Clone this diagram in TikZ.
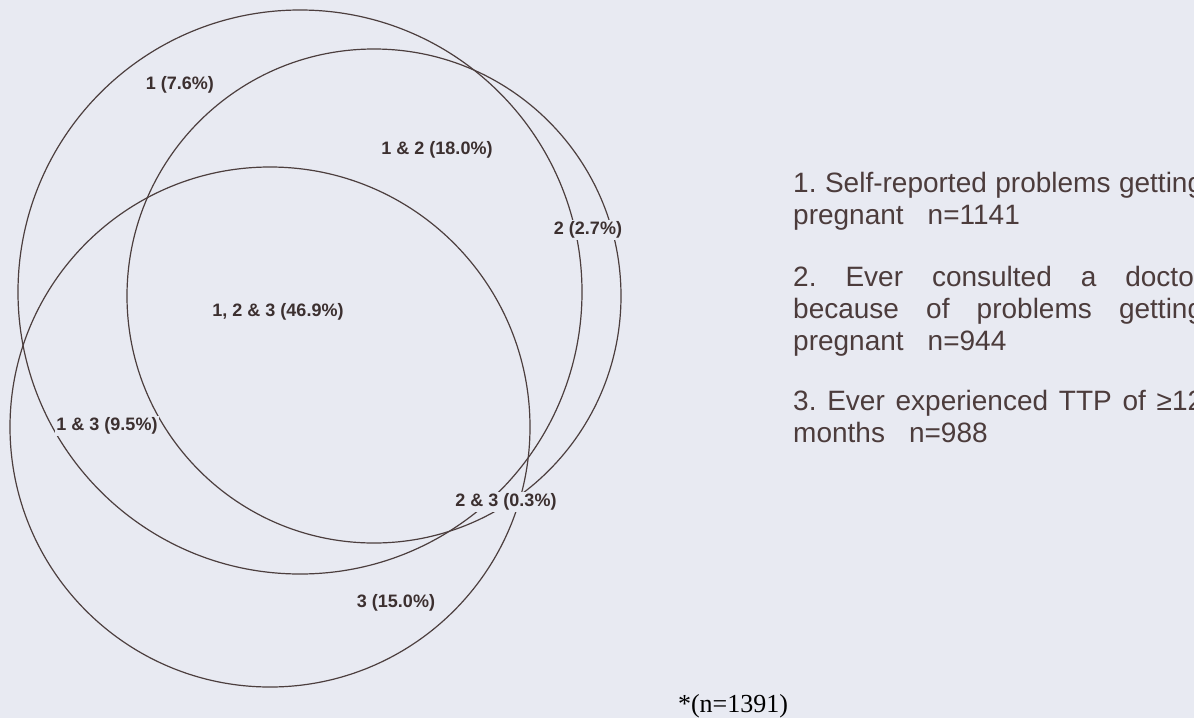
\documentclass[tikz,border=0pt]{standalone}
\usepackage{fontspec}
\setmainfont{Liberation Sans}
\newfontfamily\notefont{Liberation Serif}
\frenchspacing

\definecolor{paper}{RGB}{232,234,242}
\definecolor{ink}{RGB}{76,62,62}
\definecolor{labelink}{RGB}{60,48,48}
\definecolor{textink}{RGB}{76,60,60}

\tikzset{
  setring/.style={draw=ink, line width=1.2pt, circle, inner sep=0pt, fill=none},
  region/.style={fill=paper, text=labelink, inner sep=1.5pt,
                 font=\bfseries\fontsize{18}{20}\selectfont},
  legendline/.style={text=textink, anchor=base west, inner sep=0pt,
                     font=\fontsize{28}{32}\selectfont},
  footnote/.style={text=black, anchor=base, inner sep=0pt,
                   font=\notefont\fontsize{26}{30}\selectfont},
}

\begin{document}
\begin{tikzpicture}[x=1pt,y=-1pt]
  % page
  \fill[paper] (0,0) rectangle (1194,718);
  \useasboundingbox (0,0) rectangle (1194,718);

  % the three sets
  \node[setring, minimum size=564pt] (setone)   at (300,292) {};
  \node[setring, minimum size=494pt] (settwo)   at (374,296) {};
  \node[setring, minimum size=520pt] (setthree) at (270,427) {};

  % region labels
  \node[region] (r1)   at (180,85)  {1 (7.6\%)};
  \node[region] (r12)  at (437,150) {1 \& 2 (18.0\%)};
  \node[region] (r2)   at (588,230) {2 (2.7\%)};
  \node[region] (r123) at (278,312) {1, 2 \& 3 (46.9\%)};
  \node[region] (r13)  at (107,426) {1 \& 3 (9.5\%)};
  \node[region] (r23)  at (506,502) {2 \& 3 (0.3\%)};
  \node[region] (r3)   at (396,603) {3 (15.0\%)};

  % legend, justified to a column that runs past the right edge
  \node[legendline] (l1a) at (793,192) {\makebox[410pt][s]{1. Self-reported problems getting}};
  \node[legendline] (l1b) at (793,224) {pregnant\hspace{24pt}n=1141};
  \node[legendline] (l2a) at (793,286) {\makebox[410pt][s]{2. Ever consulted a doctor}};
  \node[legendline] (l2b) at (793,318) {\makebox[410pt][s]{because of problems getting}};
  \node[legendline] (l2c) at (793,350) {pregnant\hspace{24pt}n=944};
  \node[legendline] (l3a) at (793,410) {\makebox[410pt][s]{3. Ever experienced TTP of ≥12}};
  \node[legendline] (l3b) at (793,442) {months\hspace{24pt}n=988};

  % sample size
  \node[footnote] (total) at (733,712) {*(n=1391)};
\end{tikzpicture}
\end{document}
